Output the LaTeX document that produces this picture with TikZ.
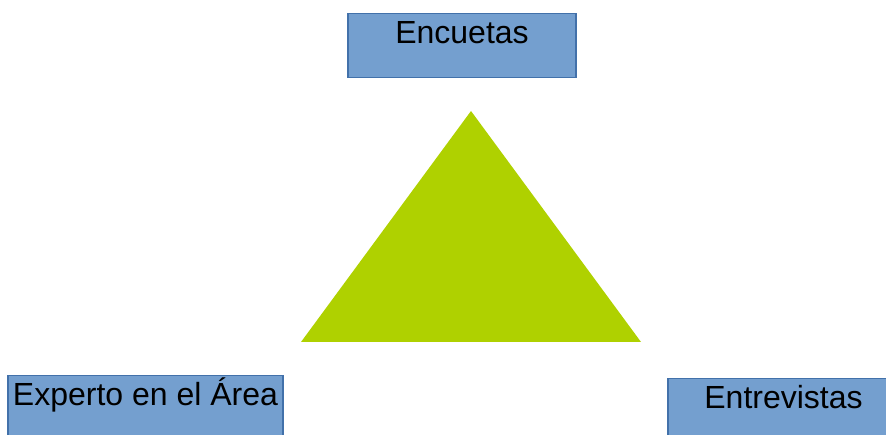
\documentclass[tikz,border=0pt]{standalone}
\usepackage{fontspec}
\setmainfont{Liberation Sans}
\usepackage{tikz}
\usetikzlibrary{positioning}
\definecolor{boxfill}{RGB}{116,159,207}
\definecolor{boxline}{RGB}{66,113,170}
\definecolor{trigreen}{RGB}{175,209,0}

\begin{document}
\begin{tikzpicture}[x=1pt,y=-1pt,font=\fontsize{32}{36}\selectfont,
    methodbox/.style={draw=boxline,fill=boxfill,line width=1.4pt,inner sep=0pt,
                      text height=30pt,anchor=north}]
  \useasboundingbox (0,0) rectangle (886,435);
  \clip (0,0) rectangle (886,435);
  \fill[trigreen] (471,111) -- (641,342) -- (301,342) -- cycle;
  \node[methodbox,minimum width=228pt,text depth=34pt] (encuestas) at (462,13) {Encuetas};
  \node[methodbox,minimum width=275pt,text depth=40pt] (experto) at (145.5,375) {Experto en el Área};
  \node[methodbox,minimum width=231pt,text depth=40pt] (entrevistas) at (783.5,378) {Entrevistas};
\end{tikzpicture}
\end{document}
